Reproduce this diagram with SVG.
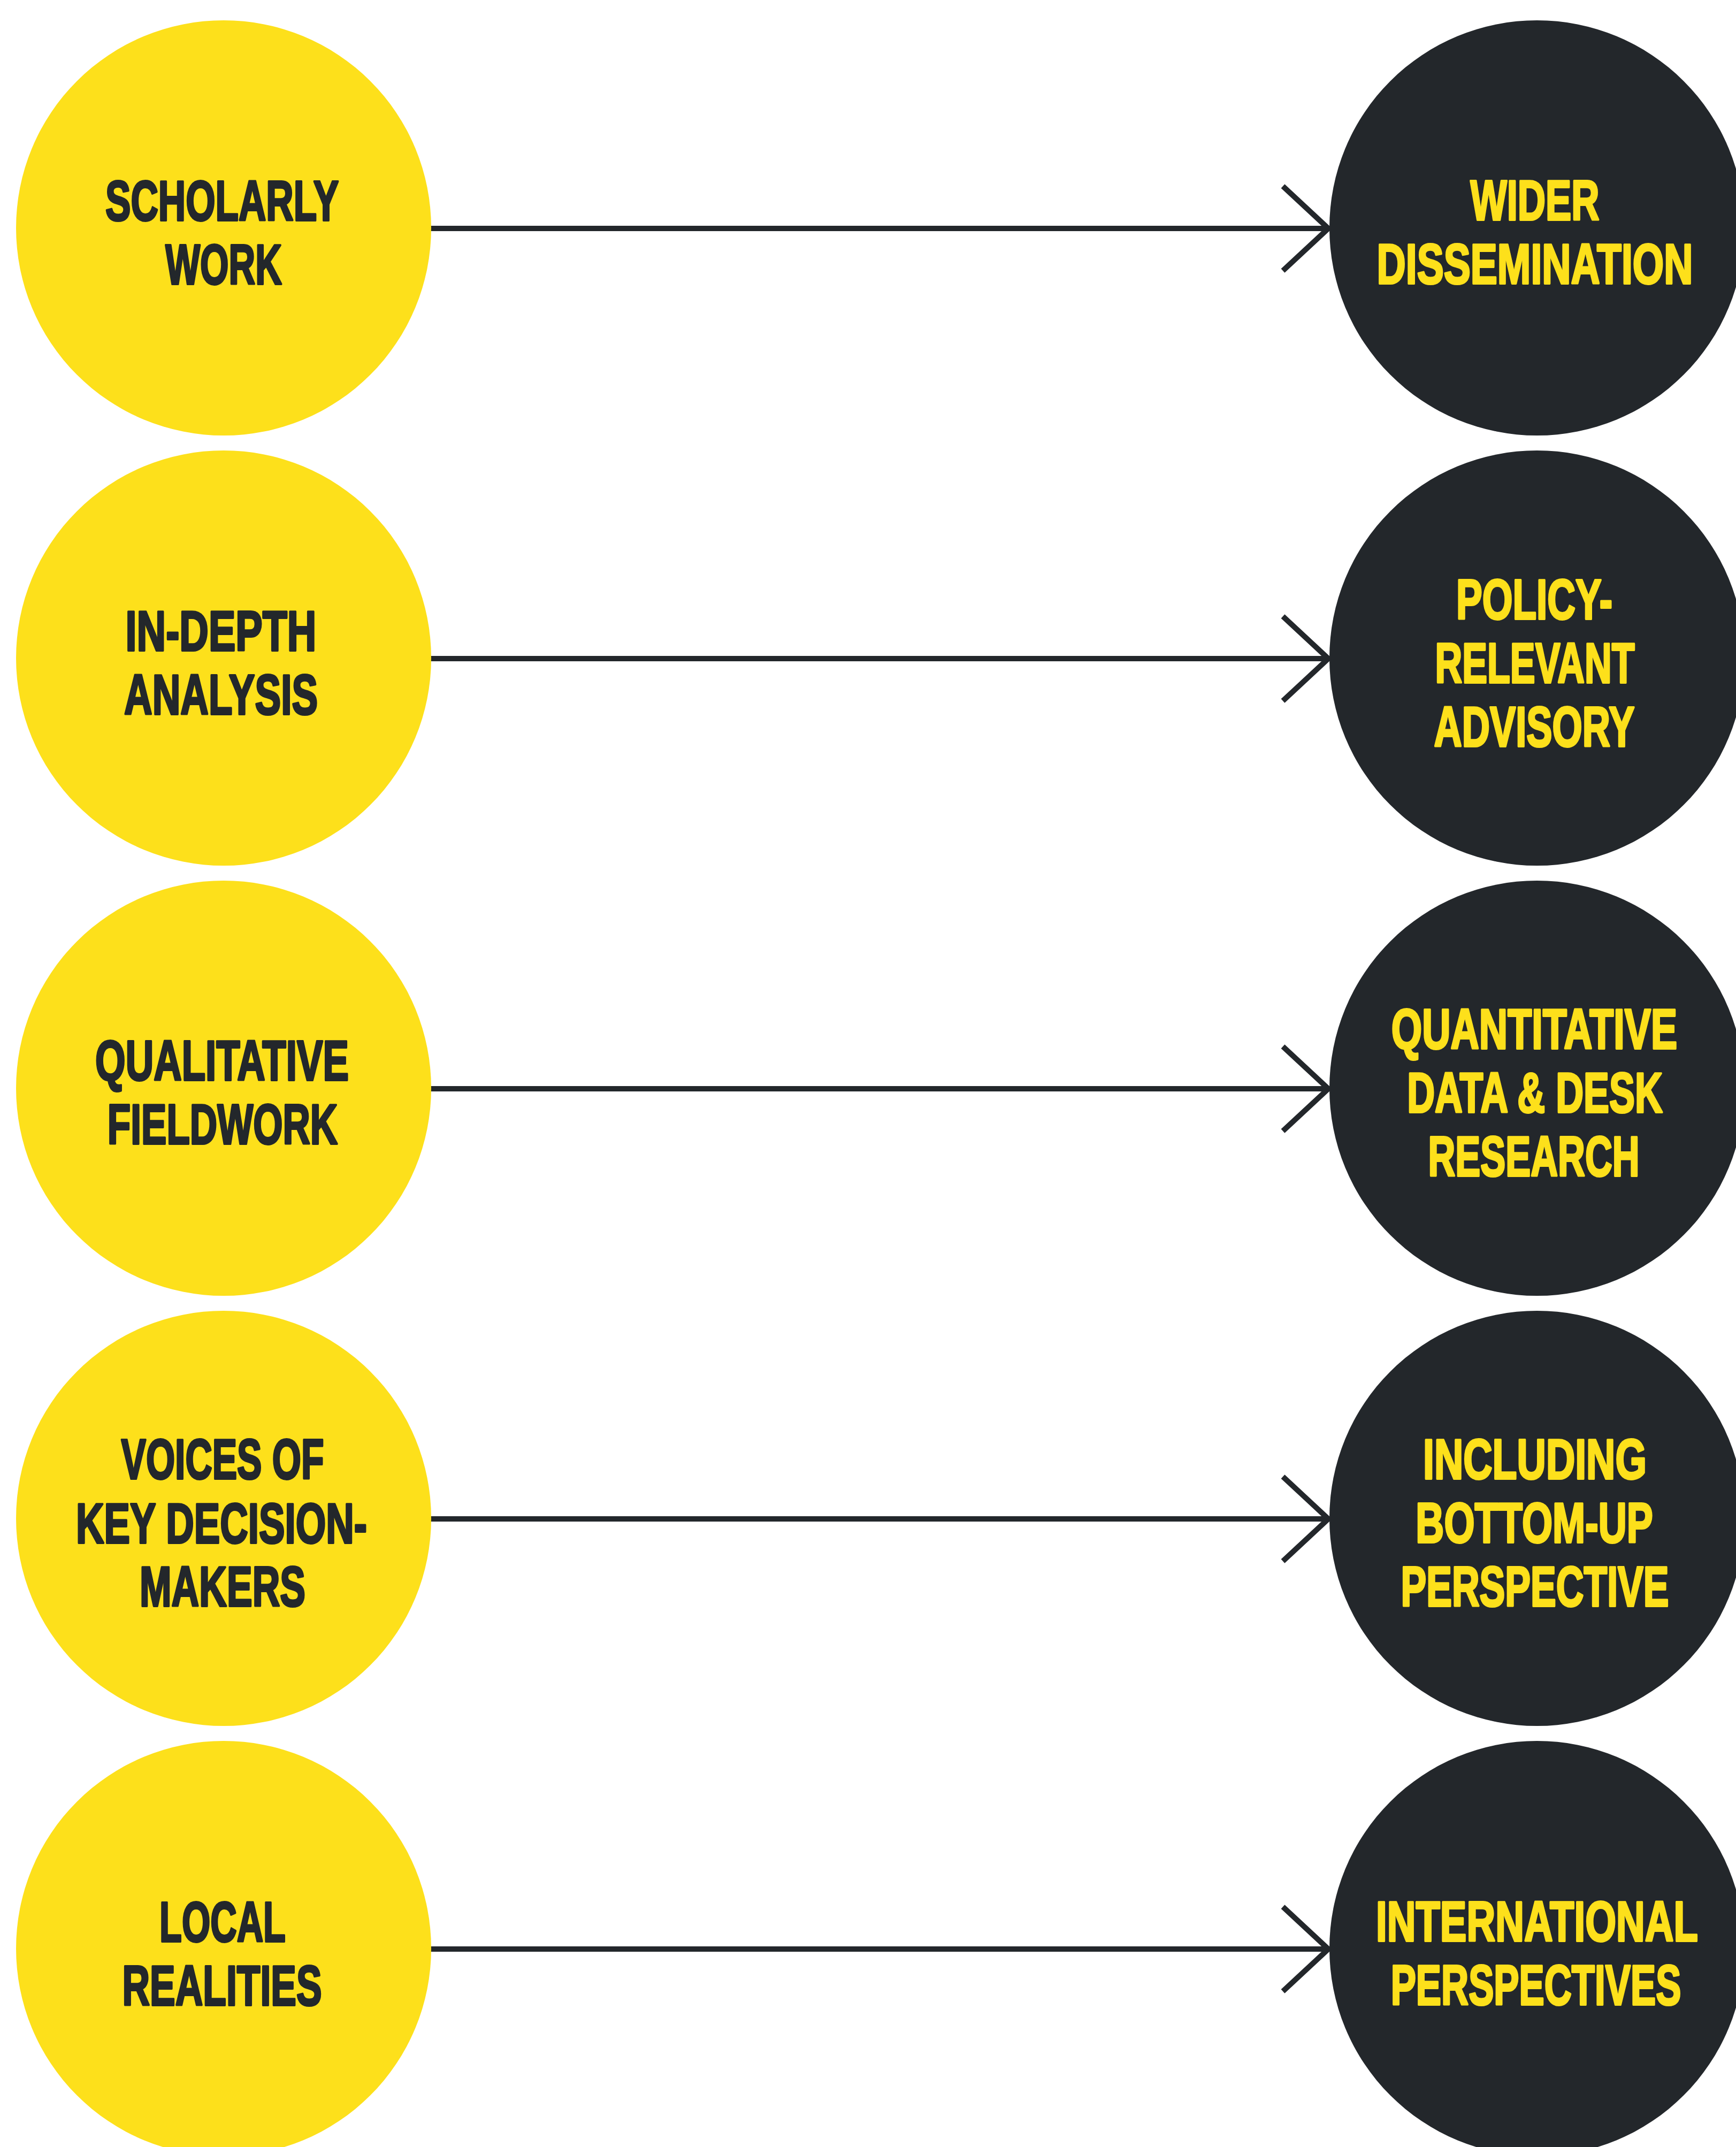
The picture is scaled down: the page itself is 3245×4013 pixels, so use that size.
<svg xmlns="http://www.w3.org/2000/svg" width="3245" height="4013" viewBox="0 0 3245 4013">
<style>
.bg{fill:#ffffff}
.src{fill:#FDE01B}
.dst{fill:#23272B}
.t{font-family:"Liberation Sans",Arial,sans-serif;font-weight:bold;font-size:105px;text-anchor:middle;stroke-width:4;stroke-linejoin:round}
.src-t{fill:#23272B;stroke:#23272B}
.dst-t{fill:#FDE01B;stroke:#FDE01B}
.conn{stroke:#23272B;stroke-width:10;fill:none}
</style>
<defs>
<marker id="chev" markerUnits="userSpaceOnUse" markerWidth="120" markerHeight="200" refX="90" refY="90" orient="auto" overflow="visible">
<path d="M5,11 L90,90 L5,169" stroke="#23272B" stroke-width="10" fill="none"/>
</marker>
</defs>
<rect class="bg" x="0" y="0" width="3245" height="4013"/>

<g id="connectors">
<line class="conn" x1="805" y1="427" x2="2483" y2="427" marker-end="url(#chev)"/>
<line class="conn" x1="805" y1="1231" x2="2483" y2="1231" marker-end="url(#chev)"/>
<line class="conn" x1="805" y1="2035" x2="2483" y2="2035" marker-end="url(#chev)"/>
<line class="conn" x1="805" y1="2839" x2="2483" y2="2839" marker-end="url(#chev)"/>
<line class="conn" x1="805" y1="3643" x2="2483" y2="3643" marker-end="url(#chev)"/>
</g>

<g id="node-scholarly-work">
<circle class="src" cx="418" cy="426" r="388"/>
<text class="t src-t" transform="translate(415,412) scale(0.65,1)" x="0" y="0" textLength="671" lengthAdjust="spacingAndGlyphs">SCHOLARLY</text>
<text class="t src-t" transform="translate(418,531) scale(0.65,1)" x="0" y="0" textLength="335" lengthAdjust="spacingAndGlyphs">WORK</text>
</g>
<g id="node-in-depth-analysis">
<circle class="src" cx="418" cy="1230" r="388"/>
<text class="t src-t" transform="translate(413,1216) scale(0.65,1)" x="0" y="0" textLength="549" lengthAdjust="spacingAndGlyphs">IN-DEPTH</text>
<text class="t src-t" transform="translate(413,1335) scale(0.65,1)" x="0" y="0" textLength="557" lengthAdjust="spacingAndGlyphs">ANALYSIS</text>
</g>
<g id="node-qualitative-fieldwork">
<circle class="src" cx="418" cy="2034" r="388"/>
<text class="t src-t" transform="translate(415,2019) scale(0.65,1)" x="0" y="0" textLength="729" lengthAdjust="spacingAndGlyphs">QUALITATIVE</text>
<text class="t src-t" transform="translate(416,2138) scale(0.65,1)" x="0" y="0" textLength="662" lengthAdjust="spacingAndGlyphs">FIELDWORK</text>
</g>
<g id="node-voices">
<circle class="src" cx="418" cy="2838" r="388"/>
<text class="t src-t" transform="translate(416,2764) scale(0.65,1)" x="0" y="0" textLength="583" lengthAdjust="spacingAndGlyphs">VOICES OF</text>
<text class="t src-t" transform="translate(414,2884) scale(0.65,1)" x="0" y="0" textLength="837" lengthAdjust="spacingAndGlyphs">KEY DECISION-</text>
<text class="t src-t" transform="translate(416,3002) scale(0.65,1)" x="0" y="0" textLength="477" lengthAdjust="spacingAndGlyphs">MAKERS</text>
</g>
<g id="node-local-realities">
<circle class="src" cx="418" cy="3642" r="388"/>
<text class="t src-t" transform="translate(416,3629) scale(0.65,1)" x="0" y="0" textLength="363" lengthAdjust="spacingAndGlyphs">LOCAL</text>
<text class="t src-t" transform="translate(415,3748) scale(0.65,1)" x="0" y="0" textLength="574" lengthAdjust="spacingAndGlyphs">REALITIES</text>
</g>

<g id="node-wider-dissemination">
<circle class="dst" cx="2873" cy="426" r="388"/>
<text class="t dst-t" transform="translate(2869,411) scale(0.65,1)" x="0" y="0" textLength="371" lengthAdjust="spacingAndGlyphs">WIDER</text>
<text class="t dst-t" transform="translate(2869,530) scale(0.65,1)" x="0" y="0" textLength="909" lengthAdjust="spacingAndGlyphs">DISSEMINATION</text>
</g>
<g id="node-policy-relevant-advisory">
<circle class="dst" cx="2873" cy="1230" r="388"/>
<text class="t dst-t" transform="translate(2868,1157) scale(0.65,1)" x="0" y="0" textLength="449" lengthAdjust="spacingAndGlyphs">POLICY-</text>
<text class="t dst-t" transform="translate(2869,1276) scale(0.65,1)" x="0" y="0" textLength="574" lengthAdjust="spacingAndGlyphs">RELEVANT</text>
<text class="t dst-t" transform="translate(2868,1395) scale(0.65,1)" x="0" y="0" textLength="577" lengthAdjust="spacingAndGlyphs">ADVISORY</text>
</g>
<g id="node-quantitative">
<circle class="dst" cx="2873" cy="2034" r="388"/>
<text class="t dst-t" transform="translate(2868,1960) scale(0.65,1)" x="0" y="0" textLength="822" lengthAdjust="spacingAndGlyphs">QUANTITATIVE</text>
<text class="t dst-t" transform="translate(2869,2079) scale(0.65,1)" x="0" y="0" textLength="735" lengthAdjust="spacingAndGlyphs">DATA &amp; DESK</text>
<text class="t dst-t" transform="translate(2867,2198) scale(0.65,1)" x="0" y="0" textLength="608" lengthAdjust="spacingAndGlyphs">RESEARCH</text>
</g>
<g id="node-including-bottom-up">
<circle class="dst" cx="2873" cy="2838" r="388"/>
<text class="t dst-t" transform="translate(2869,2764) scale(0.65,1)" x="0" y="0" textLength="643" lengthAdjust="spacingAndGlyphs">INCLUDING</text>
<text class="t dst-t" transform="translate(2868,2883) scale(0.65,1)" x="0" y="0" textLength="682" lengthAdjust="spacingAndGlyphs">BOTTOM-UP</text>
<text class="t dst-t" transform="translate(2869,3002) scale(0.65,1)" x="0" y="0" textLength="771" lengthAdjust="spacingAndGlyphs">PERSPECTIVE</text>
</g>
<g id="node-international-perspectives">
<circle class="dst" cx="2873" cy="3642" r="388"/>
<text class="t dst-t" transform="translate(2873,3628) scale(0.65,1)" x="0" y="0" textLength="926" lengthAdjust="spacingAndGlyphs">INTERNATIONAL</text>
<text class="t dst-t" transform="translate(2871,3747) scale(0.65,1)" x="0" y="0" textLength="835" lengthAdjust="spacingAndGlyphs">PERSPECTIVES</text>
</g>
</svg>
